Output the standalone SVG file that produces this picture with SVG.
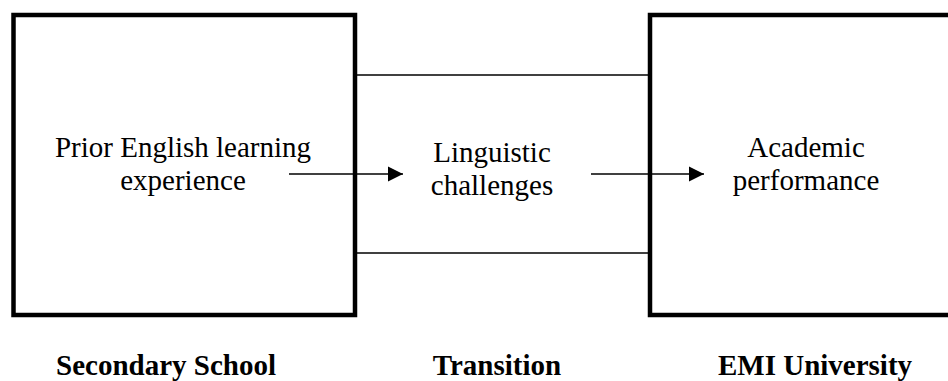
<svg xmlns="http://www.w3.org/2000/svg" width="948" height="381" viewBox="0 0 948 381">
<style>
.box{fill:none;stroke:#000;stroke-width:4.5}
.ln{stroke:#000;stroke-width:1.6;fill:none}
.t{font-family:"Liberation Serif","Times New Roman",serif;font-size:29px;fill:#000;text-anchor:middle}
.b{font-weight:bold}
</style>
<defs>
<marker id="ah" markerUnits="userSpaceOnUse" markerWidth="16" markerHeight="16" viewBox="0 0 16 16" refX="15" refY="8" orient="auto">
<path d="M0,0.5 L15,8 L0,15.5 Z" fill="#000"/>
</marker>
</defs>
<rect width="948" height="381" fill="#fff"/>
<g id="connectors">
<line class="ln" x1="355" y1="75" x2="650" y2="75"/>
<line class="ln" x1="355" y1="253" x2="650" y2="253"/>
<line class="ln" x1="289" y1="174" x2="403" y2="174" marker-end="url(#ah)"/>
<line class="ln" x1="591" y1="174" x2="704" y2="174" marker-end="url(#ah)"/>
</g>
<g id="secondary-school">
<rect class="box" x="13.5" y="15" width="341.5" height="300"/>
<text class="t" x="183" y="157">Prior English learning</text>
<text class="t" x="183" y="190">experience</text>
<text class="t b" x="166" y="375">Secondary School</text>
</g>
<g id="transition">
<text class="t" x="492" y="162">Linguistic</text>
<text class="t" x="492" y="195">challenges</text>
<text class="t b" x="497" y="375">Transition</text>
</g>
<g id="emi-university">
<rect class="box" x="650" y="15" width="320" height="300"/>
<text class="t" x="806" y="157">Academic</text>
<text class="t" x="806" y="190">performance</text>
<text class="t b" x="815" y="375">EMI University</text>
</g>
</svg>
